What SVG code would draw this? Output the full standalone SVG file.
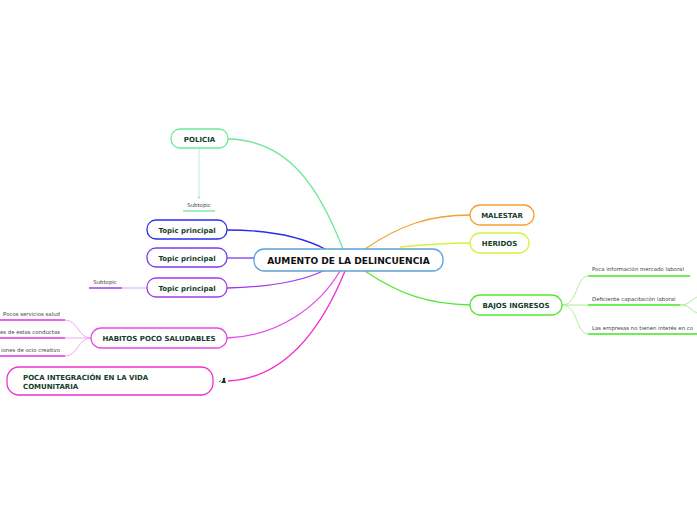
<svg xmlns="http://www.w3.org/2000/svg" width="697" height="520" viewBox="0 0 697 520">
<style>
.n{fill:#fff;stroke-width:1.3}
.t{font-family:"DejaVu Sans",Verdana,sans-serif;font-weight:bold;font-size:7px;fill:#143d2b;text-anchor:middle}
.tl{text-anchor:start}
.big{font-size:9.1px;fill:#111}
.s{font-family:"DejaVu Sans",Verdana,sans-serif;font-size:5.4px;fill:#444}
.c{fill:none;stroke-width:1.3}
</style>
<defs>
<marker id="ar" markerWidth="4" markerHeight="4" refX="2" refY="2" orient="auto"><path d="M0,0 L4,2 L0,4z" fill="#a8ecc0"/></marker>
</defs>
<rect width="697" height="520" fill="#fff"/>
<g id="connectors">
<path class="c" d="M228,139 C290,140 320,190 343,249" stroke="#6ee89a"/>
<path class="c" d="M227,230 C270,230 300,236 325,249" stroke="#2b2bee"/>
<path class="c" d="M227,258 L254,258" stroke="#7b3bee"/>
<path class="c" d="M227,288 C270,287 300,282 323,271" stroke="#a03af0"/>
<path class="c" d="M227,338 C280,336 320,305 340,271" stroke="#e84ae8"/>
<path class="c" d="M228,381 C290,378 325,320 345,271" stroke="#f030d0"/>
<path class="c" d="M365,249 C400,225 430,215 470,215" stroke="#f5a030"/>
<path class="c" d="M400,247 C430,244 450,243 470,243" stroke="#d8f040"/>
<path class="c" d="M365,271 C400,295 430,304 470,305" stroke="#55e830"/>
<path d="M199,148 L199,198" stroke="#a8ecc0" stroke-width="0.8" fill="none" marker-end="url(#ar)"/>
<path d="M183,211 L215,211" stroke="#6ee89a" stroke-width="1.3"/>
<path d="M122,288 L147,288" stroke="#d8a8f8" stroke-width="1"/>
<path d="M89,288 L122,288" stroke="#a03af0" stroke-width="1.5"/>
<path d="M91,338 C78,338 78,320 65,320 M91,338 L65,338 M91,338 C78,338 78,356 65,356" fill="none" stroke="#f4a8f0" stroke-width="1"/>
<path d="M0,320 L65,320 M0,338 L65,338 M0,356 L65,356" stroke="#e030e0" stroke-width="1.5"/>
<path d="M562,305 C578,305 576,276 588,276 M562,305 L588,305 M562,305 C578,305 576,334 588,334" fill="none" stroke="#a8f090" stroke-width="1"/>
<path d="M588,276 L690,276 M588,305 L680,305 M588,334 L697,334" stroke="#44e822" stroke-width="1.5"/>
<path d="M680,305 C690,305 690,300 697,297 M680,305 C690,305 690,310 697,313" fill="none" stroke="#a8f090" stroke-width="1"/>
</g>
<g id="central"><rect class="n" x="254" y="249" width="189" height="22" rx="10" stroke="#5aa4dc"/><text class="t big" x="348.5" y="264">AUMENTO DE LA DELINCUENCIA</text></g>
<g id="policia"><rect class="n" x="171" y="129" width="57" height="19" rx="9" stroke="#6ee89a"/><text class="t" x="199.5" y="141.5">POLICIA</text></g>
<g id="policia-sub"><text class="s" x="199" y="207" text-anchor="middle">Subtopic</text></g>
<g id="topic1"><rect class="n" x="147" y="220" width="80" height="19" rx="9" stroke="#2b2bee"/><text class="t" x="187" y="232.5">Topic principal</text></g>
<g id="topic2"><rect class="n" x="147" y="248" width="80" height="19" rx="9" stroke="#7b3bee"/><text class="t" x="187" y="260.5">Topic principal</text></g>
<g id="topic3"><rect class="n" x="147" y="278" width="80" height="19" rx="9" stroke="#a03af0"/><text class="t" x="187" y="290.5">Topic principal</text></g>
<g id="topic3-sub"><text class="s" x="105" y="284" text-anchor="middle">Subtopic</text></g>
<g id="habitos"><rect class="n" x="91" y="328" width="136" height="20" rx="10" stroke="#e84ae8"/><text class="t" x="159" y="340.5">HABITOS POCO SALUDABLES</text></g>
<g id="habitos-sub1"><text class="s" x="60" y="316" text-anchor="end">Pocos servicios salud</text></g>
<g id="habitos-sub2"><text class="s" x="60" y="334" text-anchor="end">es de estas conductas</text></g>
<g id="habitos-sub3"><text class="s" x="60" y="352" text-anchor="end">iones de ocio creativo</text></g>
<g id="poca"><rect class="n" x="7" y="367" width="206" height="28" rx="12" stroke="#f030d0"/><text class="t tl" x="23" y="380">POCA INTEGRACIÓN EN LA VIDA</text><text class="t tl" x="23" y="389">COMUNITARIA</text>
<g fill="#143d2b"><circle cx="224" cy="379" r="1.3"/><path d="M221,383 l2,-3 l2,0 l1,3z"/><path d="M219,382 l2,-1.5" stroke="#143d2b" stroke-width="0.7"/></g></g>
<g id="malestar"><rect class="n" x="470" y="205" width="64" height="20" rx="10" stroke="#f5a030"/><text class="t" x="502" y="217.5">MALESTAR</text></g>
<g id="heridos"><rect class="n" x="470" y="233" width="59" height="20" rx="10" stroke="#d8f040"/><text class="t" x="499.5" y="245.5">HERIDOS</text></g>
<g id="bajos"><rect class="n" x="470" y="295" width="92" height="20" rx="10" stroke="#55e830"/><text class="t" x="516" y="307.5">BAJOS INGRESOS</text></g>
<g id="bajos-sub1"><text class="s" x="592" y="271">Poca información mercado laboral</text></g>
<g id="bajos-sub2"><text class="s" x="592" y="301">Deficiente capacitación laboral</text></g>
<g id="bajos-sub3"><text class="s" x="592" y="330">Las empresas no tienen interés en co</text></g>
</svg>
